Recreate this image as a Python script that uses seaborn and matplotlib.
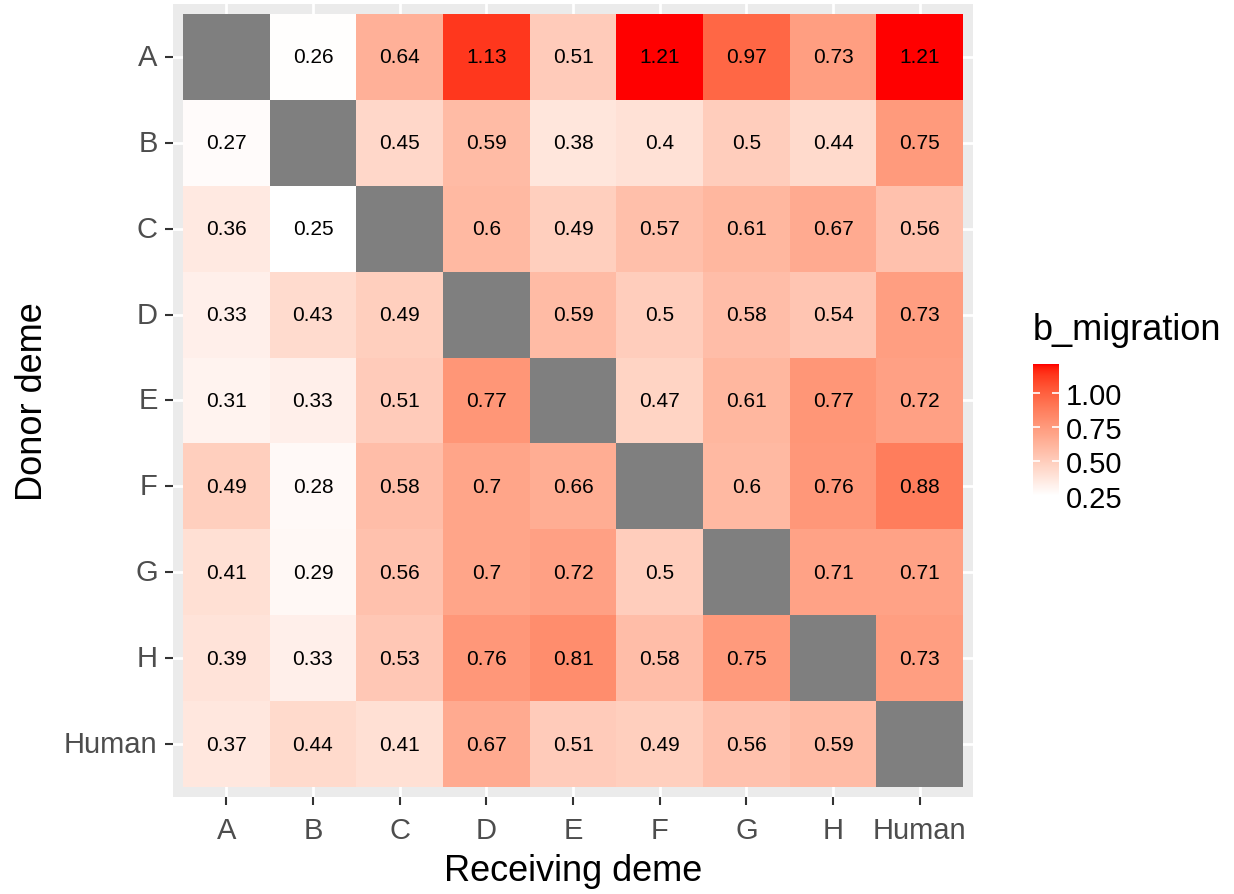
import numpy as np
import pandas as pd
import matplotlib
matplotlib.use("Agg")
import matplotlib.pyplot as plt
from matplotlib.colors import LinearSegmentedColormap, ListedColormap
import seaborn as sns

# Migration estimates: rows = donor deme, columns = receiving deme
demes = ['A', 'B', 'C', 'D', 'E', 'F', 'G', 'H', 'Human']
row_A = [np.nan, 0.26, 0.64, 1.13, 0.51, 1.21, 0.97, 0.73, 1.21]
row_B = [0.27, np.nan, 0.45, 0.59, 0.38, 0.40, 0.50, 0.44, 0.75]
row_C = [0.36, 0.25, np.nan, 0.60, 0.49, 0.57, 0.61, 0.67, 0.56]
row_D = [0.33, 0.43, 0.49, np.nan, 0.59, 0.50, 0.58, 0.54, 0.73]
row_E = [0.31, 0.33, 0.51, 0.77, np.nan, 0.47, 0.61, 0.77, 0.72]
row_F = [0.49, 0.28, 0.58, 0.70, 0.66, np.nan, 0.60, 0.76, 0.88]
row_G = [0.41, 0.29, 0.56, 0.70, 0.72, 0.50, np.nan, 0.71, 0.71]
row_H = [0.39, 0.33, 0.53, 0.76, 0.81, 0.58, 0.75, np.nan, 0.73]
row_Human = [0.37, 0.44, 0.41, 0.67, 0.51, 0.49, 0.56, 0.59, np.nan]
legend_ticks = [0.25, 0.50, 0.75, 1.00]

df = pd.DataFrame([row_A, row_B, row_C, row_D, row_E, row_F, row_G, row_H, row_Human],
                  index=demes, columns=demes)
labels = df.map(lambda v: '' if np.isnan(v) else f'{v:g}')


# white -> red gradient interpolated in CIELAB, like ggplot's scale_fill_gradient
def srgb_to_lab(rgb):
    c = np.asarray(rgb, float)
    c = np.where(c <= 0.04045, c / 12.92, ((c + 0.055) / 1.055) ** 2.4)
    m = np.array([[0.4124, 0.3576, 0.1805],
                  [0.2126, 0.7152, 0.0722],
                  [0.0193, 0.1192, 0.9505]])
    xyz = m @ c / np.array([0.95047, 1.0, 1.08883])
    f = np.where(xyz > 0.008856, np.cbrt(xyz), 7.787 * xyz + 16 / 116)
    return np.array([116 * f[1] - 16, 500 * (f[0] - f[1]), 200 * (f[1] - f[2])])


def lab_to_srgb(lab):
    fy = (lab[0] + 16) / 116
    fx = fy + lab[1] / 500
    fz = fy - lab[2] / 200
    f = np.array([fx, fy, fz])
    xyz = np.where(f ** 3 > 0.008856, f ** 3, (f - 16 / 116) / 7.787)
    xyz = xyz * np.array([0.95047, 1.0, 1.08883])
    minv = np.array([[3.2406, -1.5372, -0.4986],
                     [-0.9689, 1.8758, 0.0415],
                     [0.0557, -0.2040, 1.0570]])
    c = minv @ xyz
    c = np.where(c <= 0.0031308, 12.92 * c, 1.055 * np.clip(c, 0, None) ** (1 / 2.4) - 0.055)
    return np.clip(c, 0, 1)


lab_lo = srgb_to_lab([1, 1, 1])
lab_hi = srgb_to_lab([1, 0, 0])
ramp = [lab_to_srgb(lab_lo + t * (lab_hi - lab_lo)) for t in np.linspace(0, 1, 256)]
cmap = LinearSegmentedColormap.from_list('white_red', ramp)

plt.rcParams['font.family'] = ['Liberation Sans', 'DejaVu Sans']

fig = plt.figure(figsize=(12.34, 8.95), dpi=100)
ax = fig.add_axes([0.1402, 0.1084, 0.6483, 0.886])
cax = fig.add_axes([0.837, 0.445, 0.021, 0.147])

sns.heatmap(df, ax=ax, cmap=cmap, vmin=0.25, vmax=1.21, annot=labels, fmt='',
            annot_kws={'size': 15, 'color': 'black'}, cbar_ax=cax,
            cbar_kws={'ticks': legend_ticks})
# diagonal (missing) cells in grey50
sns.heatmap(df.isna().astype(float), mask=~df.isna(), ax=ax,
            cmap=ListedColormap(['#7F7F7F']), cbar=False)

ax.set_facecolor('#EBEBEB')
ax.set_axisbelow(True)
ax.grid(True, color='white', linewidth=2)
ax.set_xlim(-0.115, 9.115)
ax.set_ylim(9.115, -0.115)
for s in ax.spines.values():
    s.set_visible(False)

ax.tick_params(axis='both', labelsize=21, labelcolor='#4D4D4D', color='#333333',
               length=6, width=1.5)
ax.tick_params(axis='x', pad=8)
ax.tick_params(axis='y', pad=5)
ax.set_yticklabels(demes, rotation=0)
ax.set_xticklabels(demes, rotation=0)
ax.set_xlabel('Receiving deme', fontsize=26, labelpad=6)
ax.set_ylabel('Donor deme', fontsize=26, labelpad=10)

cbar = ax.collections[0].colorbar
cbar.outline.set_visible(False)
cbar.ax.set_yticklabels(['0.25', '0.50', '0.75', '1.00'])
cbar.ax.tick_params(left=True, right=True, direction='in', color='white', length=5,
                    width=1.2, labelsize=21, labelcolor='black', pad=5)
fig.text(0.837, 0.62, 'b_migration', fontsize=26, ha='left', va='baseline')

fig.savefig('out.png', dpi=100)
